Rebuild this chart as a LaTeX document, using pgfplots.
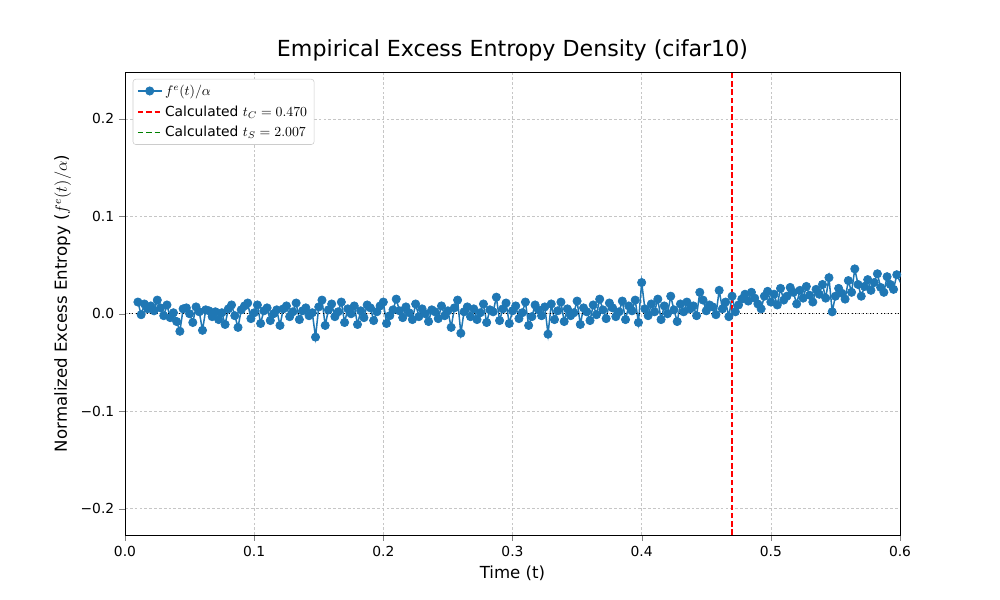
\documentclass[border=0pt]{standalone}
\usepackage{pgfplots}
\pgfplotsset{compat=1.18}
\usepackage{fontspec}
\setmainfont{DejaVu Sans}
\definecolor{mplblue}{HTML}{1F77B4}
\definecolor{mplgreen}{HTML}{008000}
\begin{document}
\begin{tikzpicture}
\path (-1.25in,-0.65in) rectangle (8.75in,5.35in);
\begin{axis}[
  at={(0,0)}, anchor=south west, scale only axis,
  width=7.75in, height=4.63in,
  xmin=0, xmax=0.6, ymin=-0.227, ymax=0.248,
  xtick={0,0.1,...,0.6}, ytick={-0.2,-0.1,0,0.1,0.2},
  xticklabels={0.0,0.1,0.2,0.3,0.4,0.5,0.6},
  yticklabels={−0.2,−0.1,0.0,0.1,0.2},
  ticklabel style={font=\fontsize{10}{12}\selectfont},
  tick align=outside, tick pos=left,
  grid=major, grid style={dash pattern=on 2pt off 1.5pt, gray!45, line width=0.4pt},
  title={Empirical Excess Entropy Density (cifar10)},
  title style={font=\fontsize{16}{19}\selectfont, yshift=-2pt},
  xlabel={Time (t)}, ylabel={Normalized Excess Entropy ($f^e(t)/\alpha$)},
  label style={font=\fontsize{12}{14}\selectfont},
  legend style={at={(0.01,0.985)}, anchor=north west, font=\fontsize{10}{12}\selectfont, draw=gray!40, rounded corners=2pt, row sep=2pt},
  legend cell align=left,
]
\addplot[mplblue, line width=1.1pt, mark=*, mark size=3pt, mark options={fill=mplblue, line width=0.5pt}]
table[x expr=\coordindex*0.0025+0.01, y expr=\thisrow{y}/1000] {
y
12
-1
10
5
8
3
14
6
-2
9
-4
1
-8
-18
5
6
0
-9
7
2
-17
4
3
-3
2
-6
1
-11
5
9
-2
-14
4
8
11
-5
1
9
-10
3
6
-7
0
4
-12
5
8
-3
2
11
-6
3
6
-2
1
-24
7
14
-12
4
10
-3
2
12
-9
5
0
8
-11
3
-4
9
6
-7
2
8
12
-10
-2
4
15
3
-4
7
1
-6
10
-3
5
0
-8
4
2
-5
8
-2
3
-14
6
14
-20
2
7
-3
5
-6
1
10
-9
4
2
17
-7
5
11
-10
3
8
-5
1
12
-12
-3
9
4
-2
7
-21
10
-6
3
12
-8
5
-2
1
13
-11
6
2
-7
9
-1
15
4
-5
11
6
-3
2
13
-6
8
3
14
-9
32
5
-2
10
2
15
-6
8
0
18
4
-8
10
2
12
5
8
-2
22
14
3
9
7
-1
24
5
12
-3
18
2
9
15
20
13
22
16
10
5
18
23
12
20
9
26
14
18
27
22
10
24
16
28
19
12
25
20
30
16
37
2
18
26
21
15
34
22
46
30
18
28
35
24
32
41
27
22
38
30
25
40
33
27
45
36
};
\addlegendentry{$f^e(t)/\alpha$}
\addplot[red, line width=1.1pt, dash pattern=on 4pt off 2pt, forget plot] coordinates {(0.47,-0.227) (0.47,0.248)};
\addlegendimage{red, line width=1.1pt, dash pattern=on 4pt off 2pt}
\addlegendentry{Calculated $t_C = 0.470$}
\addlegendimage{mplgreen, line width=1.1pt, dash pattern=on 4pt off 2pt}
\addlegendentry{Calculated $t_S = 2.007$}
\addplot[black, dotted, line width=0.6pt, forget plot] coordinates {(0,0) (0.6,0)};
\end{axis}
\end{tikzpicture}
\end{document}
